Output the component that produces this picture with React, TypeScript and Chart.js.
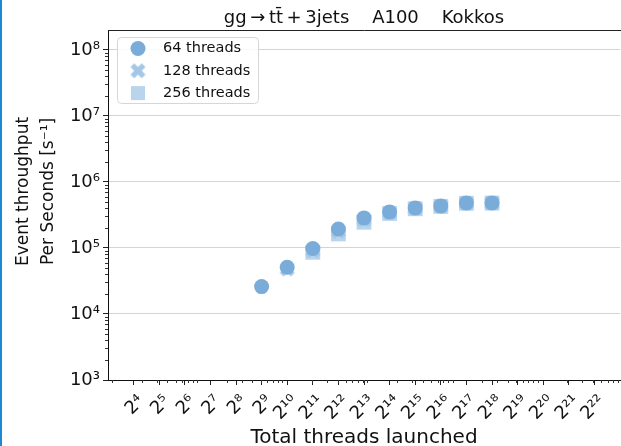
import React, { useEffect, useRef } from 'react';
import { Chart, registerables } from 'chart.js';

Chart.register(...registerables);

// ---------- data ----------
const seriesLabels = ['64 threads', '128 threads', '256 threads'];

const threads64X = [512, 1024, 2048, 4096, 8192, 16384, 32768, 65536, 131072, 262144];
const threads64Y = [26000, 51000, 98000, 194000, 285000, 351000, 404000, 433000, 481000, 481000];

const threads128X = [1024, 2048, 4096, 8192, 16384, 32768, 65536, 131072, 262144];
const threads128Y = [48000, 91000, 178000, 268000, 343000, 398000, 430000, 478000, 480000];

const threads256X = [2048, 4096, 8192, 16384, 32768, 65536, 131072, 262144];
const threads256Y = [86000, 163000, 245000, 333000, 392000, 425000, 475000, 478000];

const xTickValues = [
  16, 32, 64, 128, 256, 512, 1024, 2048, 4096, 8192, 16384, 32768, 65536,
  131072, 262144, 524288, 1048576, 2097152, 4194304,
];
const xTickLabels = [
  '2⁴', '2⁵', '2⁶', '2⁷', '2⁸', '2⁹', '2¹⁰', '2¹¹', '2¹²', '2¹³', '2¹⁴',
  '2¹⁵', '2¹⁶', '2¹⁷', '2¹⁸', '2¹⁹', '2²⁰', '2²¹', '2²²',
];
const yTickValues = [1e3, 1e4, 1e5, 1e6, 1e7, 1e8];
const yTickLabels = ['10³', '10⁴', '10⁵', '10⁶', '10⁷', '10⁸'];

const X_MIN = 8;
const X_MAX = 8388608;
const Y_MIN = 1e3;
const Y_MAX = 2e8;

const titleText = 'gg\u2009→\u2009tt̄\u2009+\u20093jets    A100    Kokkos';
const xTitle = 'Total threads launched';
const yTitle = ['     Event throughput', '     Per Seconds [s⁻¹]'];

// minor ticks of a base-10 log axis (2..9 × 10^n)
function minorTicks(lo: number, hi: number) {
  const out: number[] = [];
  for (let n = 0; n <= 9; n++) {
    for (let k = 2; k <= 9; k++) {
      const v = k * Math.pow(10, n);
      if (v > lo && v < hi) out.push(v);
    }
  }
  return out;
}

const COLOR_64 = '#79acd8';
const COLOR_128 = '#a4c7e5';
const COLOR_256 = '#b8d5ed';

function makeCross(color: string) {
  const size = 17;
  const c = document.createElement('canvas');
  c.width = size;
  c.height = size;
  const g = c.getContext('2d')!;
  const L = 7.9;
  const t = 2.7;
  g.translate(size / 2, size / 2);
  g.rotate(Math.PI / 4);
  g.beginPath();
  const pts = [
    [-t, -L], [t, -L], [t, -t], [L, -t], [L, t], [t, t],
    [t, L], [-t, L], [-t, t], [-L, t], [-L, -t], [-t, -t],
  ];
  pts.forEach(([px, py], i) => (i === 0 ? g.moveTo(px, py) : g.lineTo(px, py)));
  g.closePath();
  g.fillStyle = color;
  g.fill();
  return c;
}

export default function App() {
  const ref = useRef<HTMLCanvasElement | null>(null);

  useEffect(() => {
    if (!ref.current) return;
    Chart.defaults.font.family = 'DejaVu Sans';
    const cross = makeCross(COLOR_128);
    const xMinor = minorTicks(X_MIN, X_MAX);
    const yMinor = minorTicks(Y_MIN, Y_MAX);

    const framePlugin = {
      id: 'frameAndMinorTicks',
      afterDraw(chart: any) {
        const { ctx, chartArea, scales } = chart;
        ctx.save();
        ctx.strokeStyle = '#222';
        ctx.lineWidth = 1;
        ctx.beginPath();
        const ty = Math.round(chartArea.top) + 0.5;
        ctx.moveTo(chartArea.left, ty);
        ctx.lineTo(chart.width, ty);
        ctx.stroke();
        ctx.strokeStyle = '#333';
        ctx.beginPath();
        for (const v of xMinor) {
          const px = Math.round(scales.x.getPixelForValue(v)) + 0.5;
          ctx.moveTo(px, chartArea.bottom);
          ctx.lineTo(px, chartArea.bottom + 3);
        }
        for (const v of yMinor) {
          const py = Math.round(scales.y.getPixelForValue(v)) + 0.5;
          ctx.moveTo(chartArea.left, py);
          ctx.lineTo(chartArea.left - 3, py);
        }
        ctx.stroke();
        ctx.restore();
      },
    };

    const legendPlugin = {
      id: 'innerLegend',
      afterDraw(chart: any) {
        const { ctx, chartArea } = chart;
        const x0 = chartArea.left + 9;
        const y0 = chartArea.top + 7;
        const w = 141;
        const h = 66;
        ctx.save();
        ctx.beginPath();
        ctx.roundRect(x0 + 0.5, y0 + 0.5, w, h, 4);
        ctx.fillStyle = 'rgba(255,255,255,0.85)';
        ctx.fill();
        ctx.strokeStyle = '#d6d6d6';
        ctx.lineWidth = 1;
        ctx.stroke();
        const mx = x0 + 21;
        chart.data.datasets.forEach((ds: any, i: number) => {
          const cy = y0 + 11.5 + i * 22.3;
          if (i === 0) {
            ctx.beginPath();
            ctx.arc(mx, cy, 7.5, 0, Math.PI * 2);
            ctx.fillStyle = COLOR_64;
            ctx.fill();
          } else if (i === 1) {
            ctx.drawImage(cross, mx - cross.width / 2, cy - cross.height / 2);
          } else {
            ctx.fillStyle = COLOR_256;
            ctx.fillRect(mx - 7, cy - 7, 14, 14);
          }
          ctx.fillStyle = '#111';
          ctx.font = '14.5px "DejaVu Sans"';
          ctx.textBaseline = 'middle';
          ctx.textAlign = 'left';
          ctx.fillText(ds.label, x0 + 46, cy);
        });
        ctx.restore();
      },
    };

    const chart = new Chart(ref.current, {
      type: 'scatter',
      data: {
        datasets: [
          {
            label: seriesLabels[0],
            data: threads64X.map((x, i) => ({ x, y: threads64Y[i] })),
            pointStyle: 'circle',
            pointRadius: 7.5,
            pointBackgroundColor: COLOR_64,
            pointBorderWidth: 0,
            backgroundColor: COLOR_64,
            borderWidth: 0,
          },
          {
            label: seriesLabels[1],
            data: threads128X.map((x, i) => ({ x, y: threads128Y[i] })),
            pointStyle: cross as any,
            pointRadius: 8,
            pointBackgroundColor: COLOR_128,
            pointBorderWidth: 0,
            backgroundColor: COLOR_128,
            borderWidth: 0,
          },
          {
            label: seriesLabels[2],
            data: threads256X.map((x, i) => ({ x, y: threads256Y[i] })),
            pointStyle: 'rect',
            pointRadius: 10.5,
            pointBackgroundColor: COLOR_256,
            pointBorderWidth: 0,
            backgroundColor: COLOR_256,
            borderWidth: 0,
          },
        ],
      },
      options: {
        responsive: false,
        animation: false,
        devicePixelRatio: 1,
        layout: { autoPadding: false, padding: { left: 0, right: 1, top: 0, bottom: 0 } },
        plugins: {
          legend: { display: false },
          tooltip: { enabled: false },
          title: {
            display: true,
            fullSize: false,
            text: titleText,
            color: '#111',
            font: { size: 18, weight: 'normal', lineHeight: 1.2 },
            padding: { top: 8, bottom: 0.4 },
          },
        },
        scales: {
          x: {
            type: 'logarithmic',
            min: X_MIN,
            max: X_MAX,
            afterBuildTicks: (s: any) => {
              s.ticks = xTickValues.map((v) => ({ value: v, major: false }));
            },
            afterFit: (s: any) => {
              s.height = 66;
              s.paddingLeft = 0;
              s.paddingRight = 0;
            },
            border: { display: true, color: '#111', width: 1 },
            grid: {
              drawOnChartArea: false,
              drawTicks: true,
              tickLength: 5,
              tickColor: '#222',
            },
            ticks: {
              autoSkip: false,
              maxRotation: 45,
              minRotation: 45,
              padding: 6,
              labelOffset: 8,
              color: '#111',
              font: { size: 18 },
              callback: (_v: any, i: number) => xTickLabels[i],
            },
            title: {
              display: true,
              text: xTitle,
              color: '#111',
              font: { size: 20, lineHeight: 0.8 },
              padding: { top: 0, bottom: 0 },
            },
          },
          y: {
            type: 'logarithmic',
            min: Y_MIN,
            max: Y_MAX,
            afterBuildTicks: (s: any) => {
              s.ticks = yTickValues.map((v) => ({ value: v, major: false }));
            },
            afterFit: (s: any) => {
              s.width = 108;
              s.paddingTop = 0;
              s.paddingBottom = 0;
            },
            border: { display: true, color: '#111', width: 1 },
            grid: {
              color: '#d4d4d4',
              lineWidth: 1,
              drawTicks: true,
              tickLength: 5,
              tickColor: '#222',
            },
            ticks: {
              padding: 3,
              color: '#111',
              font: { size: 18 },
              callback: (_v: any, i: number) => yTickLabels[i],
            },
            title: {
              display: true,
              text: yTitle,
              color: '#111',
              font: { size: 17, lineHeight: 25 / 17 },
              padding: { top: 11.5, bottom: 0 },
            },
          },
        },
      },
      plugins: [framePlugin, legendPlugin],
    });

    return () => chart.destroy();
  }, []);

  return (
    <div
      style={{
        position: 'fixed',
        left: 0,
        top: 0,
        width: 621,
        height: 446,
        background: '#fff',
        overflow: 'hidden',
      }}
    >
      <canvas ref={ref} width={621} height={446} style={{ display: 'block' }} />
      <div
        style={{
          position: 'absolute',
          left: 0,
          top: 0,
          width: 2,
          height: 446,
          background: '#1e88d4',
        }}
      />
    </div>
  );
}
